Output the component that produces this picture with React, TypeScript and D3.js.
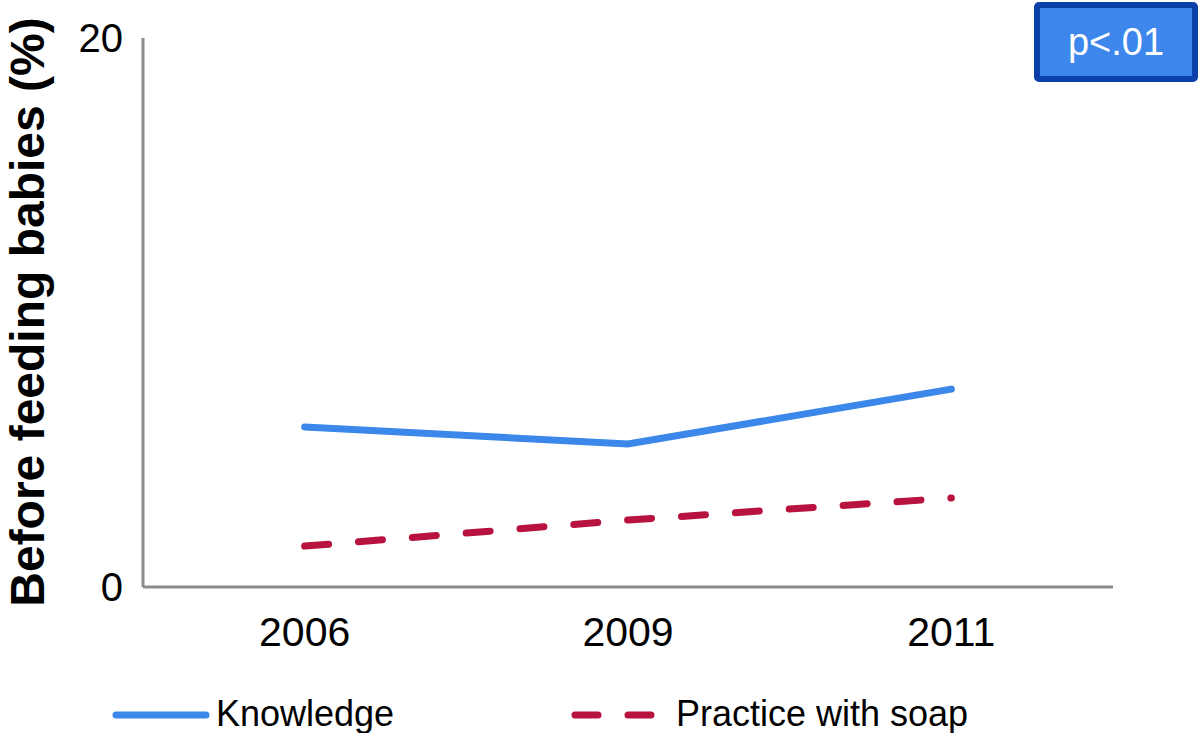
import React, { useEffect, useRef } from 'react'
import * as d3 from 'd3'

// values
const years = ['2006', '2009', '2011']
const knowledge = [5.83, 5.21, 7.21]
const practiceWithSoap = [1.49, 2.44, 3.24]
const yTicks = [0, 20]
const seriesNames = ['Knowledge', 'Practice with soap']
const yLabel = 'Before feeding babies (%)'
const pLabel = 'p<.01'

const FONT = "'Liberation Sans', Arial, Helvetica, sans-serif"

function App () {
  const ref = useRef<SVGSVGElement>(null)

  useEffect(() => {
    const width = 1200
    const height = 733
    const margin = { top: 38, right: 87, bottom: 146, left: 143 }

    const svg = d3.select(ref.current)
    svg.selectAll('*').remove()

    const x = d3.scalePoint()
      .domain(years)
      .range([margin.left, width - margin.right])
      .padding(0.5)

    const y = d3.scaleLinear()
      .domain([0, 20])
      .range([height - margin.bottom, margin.top])

    // axes
    svg.append('line')
      .attr('x1', margin.left).attr('x2', margin.left)
      .attr('y1', y(20)).attr('y2', y(0))
      .attr('stroke', '#8c8c8c').attr('stroke-width', 3)
    svg.append('line')
      .attr('x1', margin.left).attr('x2', width - margin.right)
      .attr('y1', y(0)).attr('y2', y(0))
      .attr('stroke', '#8c8c8c').attr('stroke-width', 3)

    svg.append('g')
      .selectAll('text')
      .data(yTicks)
      .enter()
      .append('text')
      .attr('x', margin.left - 20)
      .attr('y', d => y(d))
      .attr('dy', '0.35em')
      .attr('text-anchor', 'end')
      .attr('font-size', 40)
      .attr('font-family', FONT)
      .text(d => d)

    svg.append('g')
      .selectAll('text')
      .data(years)
      .enter()
      .append('text')
      .attr('x', d => x(d) as number)
      .attr('y', y(0) + 59)
      .attr('text-anchor', 'middle')
      .attr('font-size', 41)
      .attr('font-family', FONT)
      .text(d => d)

    // y label
    svg.append('text')
      .attr('transform', 'translate(44,' + 312 + ') rotate(-90)')
      .attr('text-anchor', 'middle')
      .attr('font-size', 48)
      .attr('font-weight', 'bold')
      .attr('font-family', FONT)
      .text(yLabel)

    const line = d3.line<number>()
      .x((d, i) => x(years[i]) as number)
      .y(d => y(d))

    svg.append('path')
      .datum(knowledge)
      .attr('fill', 'none')
      .attr('stroke', '#3c87ea')
      .attr('stroke-width', 7)
      .attr('stroke-linecap', 'round')
      .attr('d', line)

    svg.append('path')
      .datum(practiceWithSoap)
      .attr('fill', 'none')
      .attr('stroke', '#b8123f')
      .attr('stroke-width', 7)
      .attr('stroke-dasharray', '24,30')
      .attr('stroke-linecap', 'round')
      .attr('d', line)

    // legend
    const legend = svg.append('g')
    legend.append('line')
      .attr('x1', 116).attr('x2', 206)
      .attr('y1', 715).attr('y2', 715)
      .attr('stroke', '#3c87ea').attr('stroke-width', 7)
      .attr('stroke-linecap', 'round')
    legend.append('text')
      .attr('x', 216).attr('y', 726)
      .attr('font-size', 36)
      .attr('font-family', FONT)
      .text(seriesNames[0])
    legend.append('line')
      .attr('x1', 575).attr('x2', 652)
      .attr('y1', 715).attr('y2', 715)
      .attr('stroke', '#b8123f').attr('stroke-width', 7)
      .attr('stroke-dasharray', '23,30')
      .attr('stroke-linecap', 'round')
    legend.append('text')
      .attr('x', 676).attr('y', 726)
      .attr('font-size', 36)
      .attr('font-family', FONT)
      .text(seriesNames[1])

    // p value box
    svg.append('rect')
      .attr('x', 1037).attr('y', 5)
      .attr('width', 158).attr('height', 74)
      .attr('fill', '#3d87ec')
      .attr('stroke', '#0b40a8')
      .attr('stroke-width', 6)
      .attr('rx', 2)
    svg.append('text')
      .attr('x', 1116).attr('y', 42)
      .attr('dy', '0.35em')
      .attr('text-anchor', 'middle')
      .attr('font-size', 38)
      .attr('fill', '#fff')
      .attr('font-family', FONT)
      .text(pLabel)
  }, [])

  return (
    <svg ref={ref} width={1200} height={733} style={{ position: 'absolute', left: 0, top: 0, background: '#fff' }} />
  )
}

export default App
